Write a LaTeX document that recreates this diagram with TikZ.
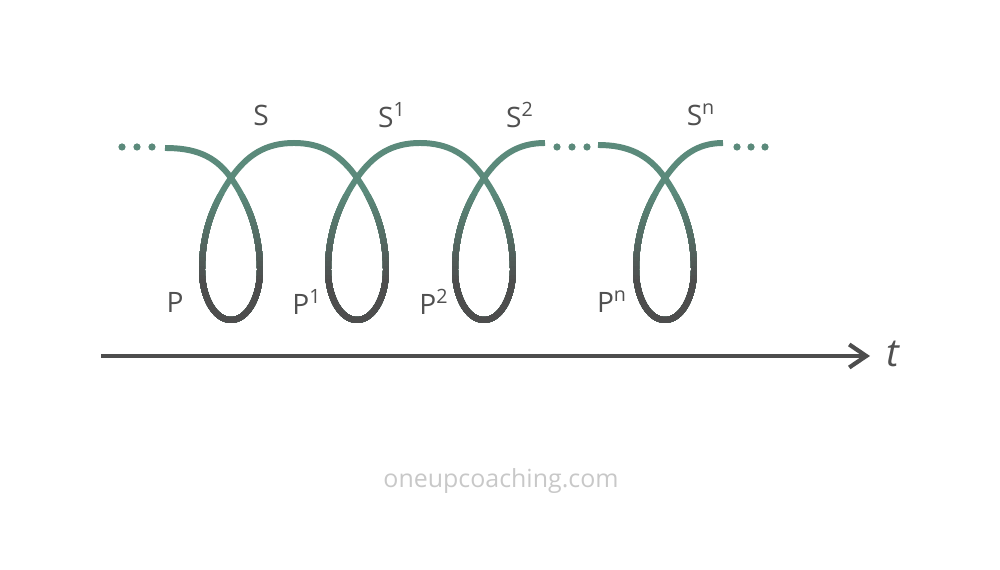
\documentclass[tikz,border=0pt]{standalone}
\usepackage{fontspec}
\setmainfont{Open Sans}
\usetikzlibrary{arrows.meta}
\definecolor{springteal}{RGB}{91,138,123}
\definecolor{springgray}{RGB}{77,77,77}
\definecolor{labelgray}{RGB}{80,80,80}
\definecolor{markgray}{RGB}{200,200,200}
% one loop of the spring, drawn from its crossing point
\newcommand{\loopat}[1]{.. controls (#1+16,369) and (#1+29,340) .. (#1+29,300)
  .. controls (#1+29,272) and (#1+16,250) .. (#1,250)
  .. controls (#1-16,250) and (#1-29,272) .. (#1-29,300)
  .. controls (#1-29,340) and (#1-16,369) .. (#1,392)}
\newcommand{\springpath}{(165,422) to[out=0,in=125] (231,392) \loopat{231}
  to[out=55,in=180] (294,427) to[out=0,in=125] (357,392) \loopat{357}
  to[out=55,in=180] (420,427) to[out=0,in=125] (484,392) \loopat{484}
  to[out=55,in=180] (545,427)
  (598,425) to[out=0,in=125] (665,392) \loopat{665}
  to[out=55,in=180] (723,427)}
\tikzset{
  spring/.style={line width=3.4pt},
  label/.style={text=labelgray, font=\fontsize{16}{18}\selectfont},
  axis/.style={line width=2.4pt, draw=springgray, -{Straight Barb[length=3.4mm,width=4.6mm,line width=2.4pt]}}
}
\begin{document}
\begin{tikzpicture}[x=0.2mm,y=0.2mm]
\useasboundingbox (0,0) rectangle (1000,570);
% spring: teal above, grey below
\draw[spring, springteal] \springpath;
\foreach \k in {1,...,20} {
  \pgfmathsetmacro\yb{380-\k*4.5}
  \pgfmathtruncatemacro\p{\k*5}
  \begin{scope}
    \clip (0,0) rectangle (1000,\yb);
    \draw[spring, springgray!\p!springteal] \springpath;
  \end{scope}
}
% dots
\foreach \x in {122,137,152,557,572,587,737,751,765}
  \fill[springteal] (\x,423) circle (3.6);
% labels
\node[label] (s0) at (261,455) {S};
\node[label] (s1) at (392,455) {S\textsuperscript{1}};
\node[label] (s2) at (520,455) {S\textsuperscript{2}};
\node[label] (sn) at (701,455) {S\textsuperscript{n}};
\node[label] (p0) at (175,268) {P};
\node[label] (p1) at (307,268) {P\textsuperscript{1}};
\node[label] (p2) at (434,268) {P\textsuperscript{2}};
\node[label] (pn) at (612,268) {P\textsuperscript{n}};
% time axis
\coordinate (tstart) at (101,214);
\coordinate (tend) at (870,214);
\draw[axis] (tstart) -- (tend);
\node[text=labelgray, font=\fontsize{22}{24}\selectfont\itshape, anchor=west] (t) at (880,216) {t};
\node[text=markgray, font=\fontsize{14.2}{16}\selectfont] (mark) at (501,89) {oneupcoaching.com};
\end{tikzpicture}
\end{document}
